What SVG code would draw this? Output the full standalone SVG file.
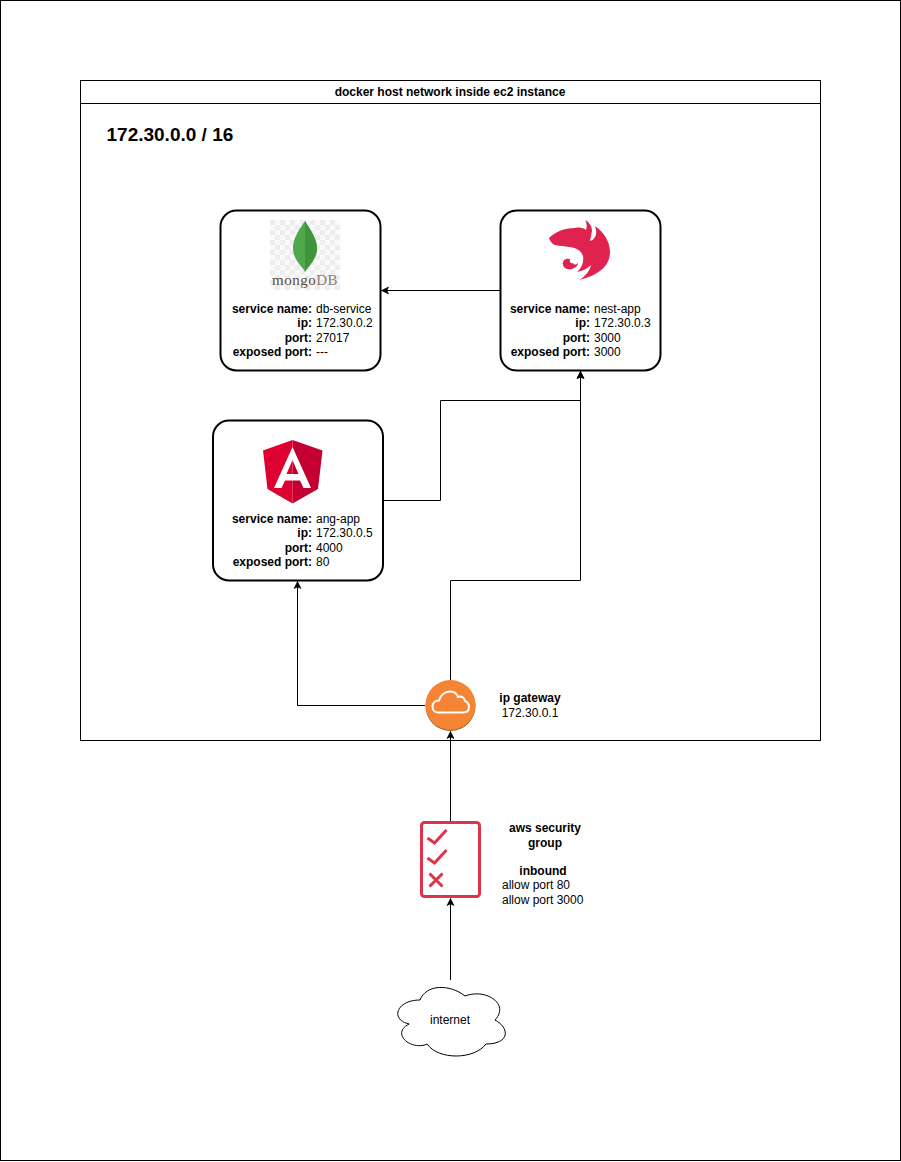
<svg xmlns="http://www.w3.org/2000/svg" width="901" height="1162" viewBox="0 0 901 1162">
<style>
text{font-family:"Liberation Sans",Arial,sans-serif;font-size:12px;fill:#000}
.b{font-weight:bold}
.e{text-anchor:end}
.m{text-anchor:middle}
.card{fill:#fff;stroke:#000;stroke-width:2}
.ln{fill:none;stroke:#000;stroke-width:1}
</style>
<defs>
<marker id="arr" markerUnits="userSpaceOnUse" viewBox="0 0 10 10" refX="9" refY="5" markerWidth="10" markerHeight="10" orient="auto"><path d="M2 1.500L9 5L2 8.500L3.500 5Z" fill="#000" stroke="#000" stroke-width=".6"/></marker>
<pattern id="chk" width="10" height="10" patternUnits="userSpaceOnUse"><rect width="10" height="10" fill="#fafafa"/><rect width="5" height="5" fill="#ededed"/><rect x="5" y="5" width="5" height="5" fill="#ededed"/></pattern>
</defs>
<rect id="page" x="0.5" y="0.5" width="900" height="1160" fill="#fff" stroke="#000"/>
<g id="host">
<rect x="80.5" y="80.5" width="740" height="660" fill="#fff" stroke="#000"/>
<line x1="80.5" y1="103.5" x2="820.5" y2="103.5" stroke="#000"/>
<text class="b m" x="450" y="96">docker host network inside ec2 instance</text>
<text class="b" x="106.500" y="141" style="font-size:19px">172.30.0.0 / 16</text>
</g>
<g id="db-service">
<rect class="card" x="220.500" y="210.500" width="160" height="160" rx="16"/>
<rect x="270" y="220" width="70" height="70" fill="url(#chk)"/>
<path d="M305 221C298 231 293 239 293 248C293 258 300 265 304 270L305 272L306 270C310 265 317 258 317 248C317 239 311 231 305 221Z" fill="#4fa94b"/>
<path d="M305 221C311 231 317 239 317 248C317 258 310 265 306 270L305 272Z" fill="#3f953c"/>
<text x="305" y="285" class="m" style="font-family:'Liberation Serif',serif;font-size:15px;fill:#5e4c3c;letter-spacing:.5px">mongo<tspan style="fill:#8f7e6c">DB</tspan></text>
<text class="b e" x="312" y="313">service name:</text><text x="316" y="313">db-service</text>
<text class="b e" x="312" y="327">ip:</text><text x="316" y="327">172.30.0.2</text>
<text class="b e" x="312" y="342">port:</text><text x="316" y="342">27017</text>
<text class="b e" x="312" y="356">exposed port:</text><text x="316" y="356">---</text>
</g>
<g id="nest-app">
<rect class="card" x="500.500" y="210.500" width="160" height="160" rx="16"/>
<path d="M549 238C555 232 564 228 575 228C580 227 584 228 586 230C587 227 587 223 585 220C589 222 592 226 592 231L590 241C594 240 597 236 596 230L595 226C604 232 610 242 610 252C610 265 600 275 579 280C586 276 590 270 591 265C586 270 581 271 577 272C582 268 584 262 583 256C581 250 576 248 570 247C564 246 558 246 555 245C552 244 550 241 549 238Z" fill="#e0234e"/>
<path d="M570 259C565 258 562 261 563 265C564 269 568 270 572 269C575 268 578 266 578 263C576 265 574 265 573 263C571 264 569 262 570 259Z" fill="#e0234e"/>
<text class="b e" x="590" y="313">service name:</text><text x="594" y="313">nest-app</text>
<text class="b e" x="590" y="327">ip:</text><text x="594" y="327">172.30.0.3</text>
<text class="b e" x="590" y="342">port:</text><text x="594" y="342">3000</text>
<text class="b e" x="590" y="356">exposed port:</text><text x="594" y="356">3000</text>
</g>
<g id="ang-app">
<rect class="card" x="213" y="420.500" width="170" height="160" rx="16"/>
<path d="M292.500 440L263 450.500L267.500 489L292.500 503.500Z" fill="#dd0031"/>
<path d="M292.500 440L322.500 450.500L318 489L292.500 503.500Z" fill="#c3002f"/>
<path d="M292.500 447L274 488H281.500L285 480.500H300L303.500 488H311ZM286.500 474L292.500 460L298.500 474Z" fill="#fff" fill-rule="evenodd"/>
<text class="b e" x="312" y="523">service name:</text><text x="316" y="523">ang-app</text>
<text class="b e" x="312" y="537">ip:</text><text x="316" y="537">172.30.0.5</text>
<text class="b e" x="312" y="552">port:</text><text x="316" y="552">4000</text>
<text class="b e" x="312" y="566">exposed port:</text><text x="316" y="566">80</text>
</g>
<g id="connectors">
<path class="ln" d="M500.500 290.500H381.500" marker-end="url(#arr)"/>
<path class="ln" d="M384 500.500H440.500V400.500H580.500V371.500" marker-end="url(#arr)"/>
<path class="ln" d="M450.500 680V580.500H580.500V371.500" marker-end="url(#arr)"/>
<path class="ln" d="M425 705.500H297.500V581.500" marker-end="url(#arr)"/>
<path class="ln" d="M450.500 821V731.500" marker-end="url(#arr)"/>
<path class="ln" d="M450.500 980V898.500" marker-end="url(#arr)"/>
</g>
<g id="gateway">
<circle cx="450.500" cy="706" r="25" fill="#9d5925"/>
<circle cx="450.500" cy="705" r="25" fill="#f58534"/>
<path d="M438 712.500C434 712.500 432.500 709 432.500 706.500C432.500 703 435 700.500 439 700.500C440 695 445 691.500 450 691.500C454 691.500 457 694 458 697C461 695.500 464.500 697.500 465 701C467.500 702 469 704 469 707C469 710.500 466.500 712.500 463 712.500Z" fill="none" stroke="#fff" stroke-width="2"/>
<text class="b m" x="530" y="702">ip gateway</text>
<text class="m" x="530" y="717">172.30.0.1</text>
</g>
<g id="security-group">
<rect x="421.500" y="822.500" width="58" height="74" rx="3" fill="#fff" stroke="#dd344c" stroke-width="3"/>
<path d="M427.500 838L434.500 843L446.500 830M427.500 858L434.500 863L446.500 850M429.500 873.500L442.500 886.500M442.500 873.500L429.500 886.500" fill="none" stroke="#dd344c" stroke-width="3"/>
<text class="b m" x="545" y="832">aws security</text>
<text class="b m" x="545" y="847">group</text>
<text class="b m" x="543" y="875">inbound</text>
<text x="502" y="889">allow port 80</text>
<text x="502" y="904">allow port 3000</text>
</g>
<g id="internet">
<path d="M420 1000C396 1000 390 1020 409.200 1024C390 1033.600 411.600 1051.200 427.200 1044C438 1060 474 1060 486 1044C510 1044 510 1028 495 1020C510 1004 486 988 465 996C450 984 426 984 420 1000Z" fill="#fff" stroke="#000"/>
<text class="m" x="450" y="1024">internet</text>
</g>
</svg>
